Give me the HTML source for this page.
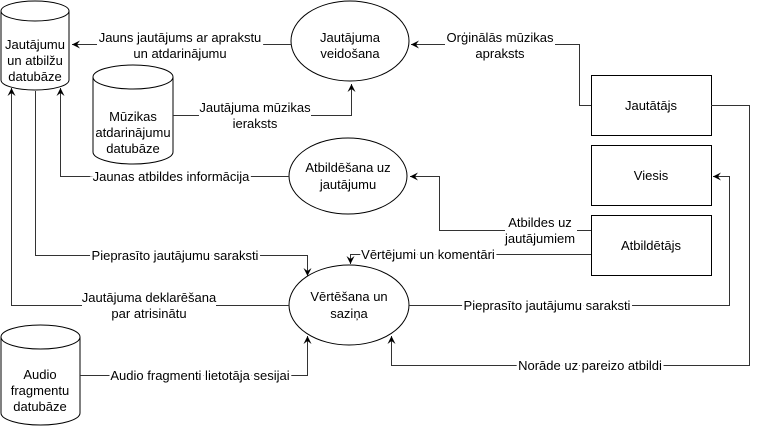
<!DOCTYPE html>
<html><head><meta charset="utf-8"><style>
html,body{margin:0;padding:0;background:#fff;}
svg text{font-family:"Liberation Sans",Arial,sans-serif;font-size:13px;fill:#000;}
.l text{paint-order:stroke;stroke:#fff;stroke-width:5px;stroke-linejoin:miter;}
</style></head><body>
<svg width="758" height="426" viewBox="0 0 758 426" xmlns="http://www.w3.org/2000/svg">
<defs>
<marker id="a" markerWidth="10" markerHeight="10" refX="8" refY="5" orient="auto" markerUnits="userSpaceOnUse">
<path d="M0,1 L8,5 L0,9 L3,5 Z" fill="#000"/>
</marker>
</defs>
<g fill="#fff" stroke="#000" stroke-width="1">
<path d="M1,11 A34,10 0 0 1 69,11 L69,80 A34,10 0 0 1 1,80 Z"/>
<path d="M1,11 A34,10 0 0 0 69,11" fill="none"/>
<path d="M93,77 A40,12 0 0 1 173,77 L173,152 A40,12 0 0 1 93,152 Z"/>
<path d="M93,77 A40,12 0 0 0 173,77" fill="none"/>
<path d="M1,337 A39.5,12 0 0 1 80,337 L80,413 A39.5,12 0 0 1 1,413 Z"/>
<path d="M1,337 A39.5,12 0 0 0 80,337" fill="none"/>
<ellipse cx="350" cy="41" rx="59" ry="40"/>
<ellipse cx="348" cy="176" rx="59" ry="38"/>
<ellipse cx="349" cy="305" rx="60" ry="40"/>
<rect x="591.5" y="75.5" width="120" height="60"/>
<rect x="591.5" y="145.5" width="120" height="60"/>
<rect x="591.5" y="215.5" width="120" height="60"/>
</g>
<g fill="none" stroke="#333" stroke-width="1">
<path d="M291,44.5 H72" marker-end="url(#a)"/>
<path d="M173,115.5 H351.5 V84" marker-end="url(#a)"/>
<path d="M591,105.5 H579.5 V44.5 H411" marker-end="url(#a)"/>
<path d="M289,176.5 H60.5 V88" marker-end="url(#a)"/>
<path d="M591,230.5 H439.5 V176.5 H410" marker-end="url(#a)"/>
<path d="M591,254.5 H350.5 V264" marker-end="url(#a)"/>
<path d="M35.5,91 V255.5 H307.5 V276" marker-end="url(#a)"/>
<path d="M289,305.5 H11.5 V88" marker-end="url(#a)"/>
<path d="M80,375.5 H307.5 V336" marker-end="url(#a)"/>
<path d="M409,305.5 H729.5 V176.5 H713" marker-end="url(#a)"/>
<path d="M711,105.5 H749.5 V365.5 H391.5 V336" marker-end="url(#a)"/>
</g>
<g fill="#fff">
<rect x="97" y="36" width="166" height="16"/>
<rect x="199" y="107" width="112" height="16"/>
<rect x="445" y="36" width="110" height="16"/>
<rect x="505" y="222" width="72" height="16"/>
<rect x="82" y="297" width="134" height="16"/>
</g>
<g text-anchor="middle">
<text x="35" y="49">Jautājumu</text><text x="35" y="65">un atbilžu</text><text x="35" y="81">datubāze</text>
<text x="133" y="121">Mūzikas</text><text x="133" y="137">atdarinājumu</text><text x="133" y="153">datubāze</text>
<text x="40" y="379">Audio</text><text x="40" y="395">fragmentu</text><text x="40" y="411">datubāze</text>
<text x="350" y="42">Jautājuma</text><text x="350" y="58">veidošana</text>
<text x="348" y="172">Atbildēšana uz</text><text x="348" y="189">jautājumu</text>
<text x="349" y="301">Vērtēšana un</text><text x="349" y="318">saziņa</text>
<text x="651" y="110">Jautātājs</text>
<text x="651" y="180">Viesis</text>
<text x="651" y="250">Atbildētājs</text>
</g>
<g text-anchor="middle" class="l">
<text x="180" y="42">Jauns jautājums ar aprakstu</text><text x="180" y="58">un atdarinājumu</text>
<text x="255" y="112">Jautājuma mūzikas</text><text x="255" y="128">ieraksts</text>
<text x="500" y="42">Orġinālās mūzikas</text><text x="500" y="58">apraksts</text>
<text x="171" y="181">Jaunas atbildes informācija</text>
<text x="540" y="227">Atbildes uz</text><text x="540" y="243">jautājumiem</text>
<text x="428" y="259">Vērtējumi un komentāri</text>
<text x="175" y="260">Pieprasīto jautājumu saraksti</text>
<text x="149" y="302">Jautājuma deklarēšana</text><text x="149" y="318">par atrisinātu</text>
<text x="200" y="380">Audio fragmenti lietotāja sesijai</text>
<text x="547" y="310">Pieprasīto jautājumu saraksti</text>
<text x="590" y="370">Norāde uz pareizo atbildi</text>
</g>
</svg>
</body></html>
